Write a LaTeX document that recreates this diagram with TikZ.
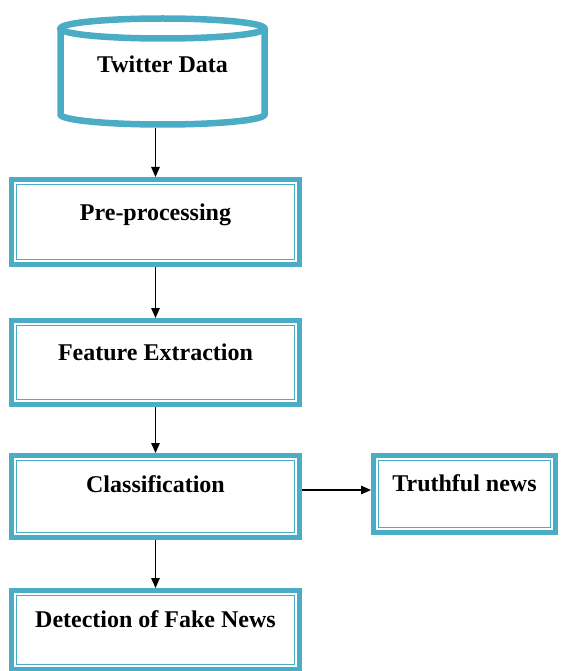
\documentclass[tikz,border=0pt]{standalone}
\usepackage{fontspec}
\setmainfont{Liberation Serif}
\usetikzlibrary{arrows.meta}
\definecolor{frame}{HTML}{4BACC6}
\begin{document}
\begin{tikzpicture}[x=1pt,y=-1pt,
  lbl/.style={font=\fontsize{24}{28}\selectfont\bfseries, text=black},
  stepbox/.style={lbl, draw=frame, line width=5pt, fill=white, inner sep=0pt},
  innerline/.style={draw=frame, line width=1.3pt},
  arr/.style={draw=black, line width=1.3pt, -{Triangle[length=10pt,width=8.5pt]}},
  cyl/.style={draw=frame, line width=6.5pt}
]
\useasboundingbox (0,0) rectangle (560,671);

% cylinder (Twitter Data)
\draw[cyl, fill=white] (60.5,28.5) -- (60.5,114.5) arc[start angle=180, end angle=0, x radius=102, y radius=10] -- (264.5,28.5);
\draw[cyl] (162.5,28.5) ellipse [x radius=102, y radius=10];
\node[lbl, inner sep=0pt, minimum width=211pt, text height=58pt, text depth=55pt] (tw) at (162.5,71.5) {Twitter Data};

% boxes
\node[stepbox, minimum width=288pt, text height=40.5pt, text depth=44.5pt] (pre) at (155.5,222) {Pre-processing};
\node[stepbox, minimum width=288pt, text height=39.5pt, text depth=44.5pt] (feat) at (155.5,362.5) {Feature Extraction};
\node[stepbox, minimum width=288pt, text height=37pt, text depth=45pt] (cls) at (155.5,496.5) {Classification};
\node[stepbox, minimum width=288pt, text height=37pt, text depth=42pt] (det) at (155.5,630) {Detection of Fake News};
\node[stepbox, minimum width=182pt, text height=36pt, text depth=41pt] (truth) at (464.5,494) {Truthful news};

\foreach \n in {pre,feat,cls,det,truth}{
  \draw[innerline] ([shift={(7.3,-7.3)}]\n.south west) rectangle ([shift={(-7.3,7.3)}]\n.north east);
}

% connectors
\draw[arr] (pre.north |- tw.south) -- (pre.north);
\draw[arr] (pre.south) -- (feat.north);
\draw[arr] (feat.south) -- (cls.north);
\draw[arr] (cls.south) -- (det.north);
\draw[arr] ([yshift=6.5pt]cls.east) -- ([yshift=6.5pt]cls.east -| truth.west);
\end{tikzpicture}
\end{document}
